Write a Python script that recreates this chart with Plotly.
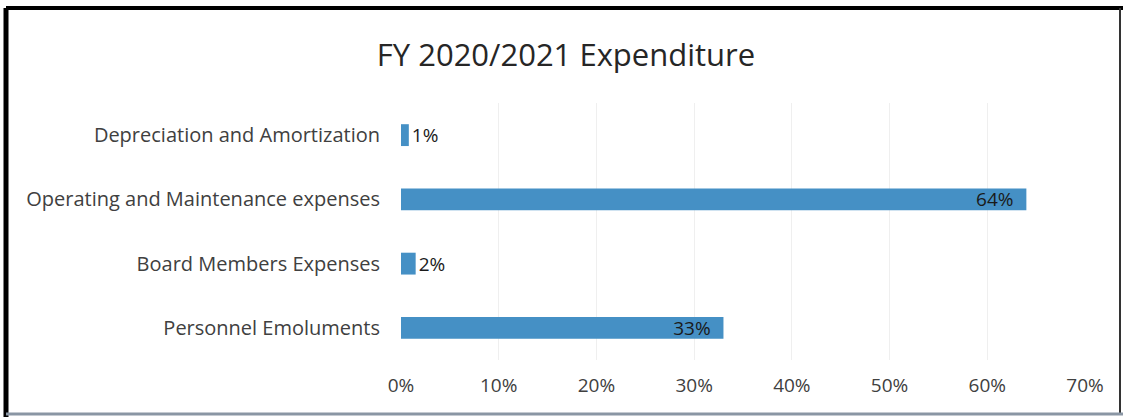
import plotly.graph_objects as go

categories = ["Personnel Emoluments", "Board Members Expenses",
              "Operating and Maintenance expenses", "Depreciation and Amortization"]
shares = [0.33, 0.015, 0.64, 0.008]
labels = ["33%", "2%", "64%", "1%"]
x_ticks = [0, 0.1, 0.2, 0.3, 0.4, 0.5, 0.6, 0.7]
x_tick_text = ["0%", "10%", "20%", "30%", "40%", "50%", "60%", "70%"]

font = "Open Sans"
bar_color = "#4590C5"
text_color = "#1a1a1a"

# big bars get the label inside at the end, small ones just outside
positions = ["inside" if v > 0.1 else "outside" for v in shares]
shown = [t + "\u00a0\u00a0" if p == "inside" else t for t, p in zip(labels, positions)]

fig = go.Figure(go.Bar(
    x=shares, y=categories, orientation="h",
    marker=dict(color=bar_color, line=dict(width=0)),
    text=shown, textposition=positions, insidetextanchor="end",
    constraintext="none",
    textfont=dict(family=font, size=19, color=text_color),
    insidetextfont=dict(color=text_color), outsidetextfont=dict(color=text_color),
    cliponaxis=False,
))

fig.update_layout(
    width=1123, height=417,
    margin=dict(l=401, r=38, t=103, b=57),
    paper_bgcolor="white", plot_bgcolor="white",
    bargap=0.66,
    showlegend=False,
    title=dict(text="FY 2020/2021 Expenditure", x=0.504, xanchor="center",
               y=1 - 55 / 417, yanchor="middle",
               font=dict(family=font, size=31, color="#262626")),
    font=dict(family=font, color="#404040"),
)
fig.update_xaxes(range=[0, 0.7], tickvals=x_ticks, ticktext=x_tick_text,
                 showgrid=True, gridcolor="#efefef", gridwidth=1,
                 zeroline=False, showline=False, ticks="",
                 tickfont=dict(family=font, size=19, color="#404040"),
                 ticklabelstandoff=12)
fig.update_yaxes(showgrid=False, zeroline=False, showline=False, ticks="",
                 tickfont=dict(family=font, size=20, color="#404040"),
                 ticklabelstandoff=20)

# scanned frame around the chart
def px_x(p):
    return (p - 401) / 684

def px_y(p):
    return (360 - p) / 257

frame = [
    (6, 8, 1123, 8, "black", 4),
    (6, 8, 6, 417, "black", 5),
    (1120, 8, 1120, 413, "#333333", 2),
    (6, 414, 1123, 414, "#8a96a4", 3),
]
for x0, y0, x1, y1, c, w in frame:
    fig.add_shape(type="line", xref="paper", yref="paper",
                  x0=px_x(x0), y0=px_y(y0), x1=px_x(x1), y1=px_y(y1),
                  line=dict(color=c, width=w))

fig.write_html("out.html", config={"displayModeBar": False},
               post_script="document.body.style.margin='0';")
